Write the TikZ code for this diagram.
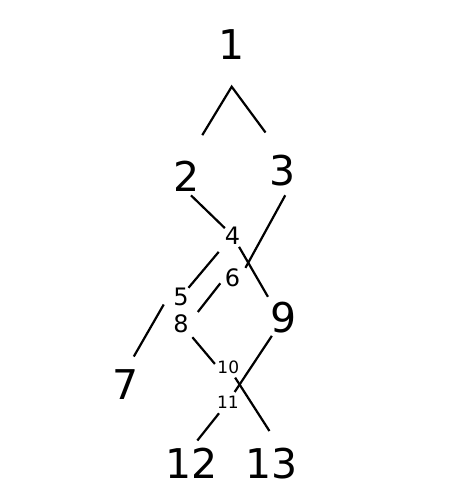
\documentclass[tikz,border=0pt]{standalone}
\usepackage{fontspec}
\setmainfont{DejaVu Sans}
\usepackage{tikz}
\usetikzlibrary{positioning}
\tikzset{
    bignum/.style={inner sep=0pt, outer sep=0pt, font=\fontsize{41}{41}\selectfont},
    midnum/.style={inner sep=0pt, outer sep=0pt, font=\fontsize{24}{24}\selectfont},
    smallnum/.style={inner sep=0pt, outer sep=0pt, font=\fontsize{17}{17}\selectfont},
    link/.style={line width=2.2pt}
}
\begin{document}
\begin{tikzpicture}[x=1pt, y=-1pt]
    \useasboundingbox (0,0) rectangle (470,504);
    % Top
    \node[bignum] (n1) at (232,45) {1};
    \coordinate (split) at (231.7,86.7);
    \node[bignum] (n2) at (186.7,176) {2};
    \node[bignum] (n3) at (282.5,171) {3};

    % Middle
    \node[midnum] (n4) at (232.5,235.5) {4};
    \node[midnum] (n5) at (181,296.7) {5};
    \node[midnum] (n6) at (232.5,277.5) {6};
    \node[midnum] (n8) at (181,323.7) {8};
    \node[bignum] (n9) at (284,317.5) {9};
    \node[bignum] (n7) at (126,385) {7};

    % Bottom
    \node[smallnum] (n10) at (228.3,367) {10};
    \node[smallnum] (n11) at (228,402) {11};
    \node[bignum] (n12) at (191.3,463.3) {12};
    \node[bignum] (n13) at (271.3,463.3) {13};

    % Connections
    \draw[link, shorten <=30pt, shorten >=28.6pt] (n2.north) -- (split) -- (n3.north);
    \draw[link, shorten <=6pt] (n2.south) -- (n4);
    \draw[link, shorten <=3pt, shorten >=6pt] (n4) -- (n9.north west);
    \draw[link, shorten <=10pt, shorten >=11pt] (n3.-64) -- (n6.east);
    \draw[link, shorten <=10pt] (n4) -- (n5);
    \draw[link, shorten <=7.4pt, shorten >=14.9pt] (n6.west) -- (n8.east);
    \draw[link, shorten <=19.3pt, shorten >=15.6pt] (n5.north west) -- (n7.north);
    \draw[link, shorten <=5.8pt, shorten >=4pt] (n8.south east) -- (n10.west);
    \draw[link, shorten <=3.4pt, shorten >=4.6pt] (n9) -- (n11);
    \draw[link, shorten <=5pt, shorten >=20pt] (n10) -- (n13.60);
    \draw[link, shorten <=6.5pt, shorten >=9.7pt] (n11) -- (n12.north);
\end{tikzpicture}
\end{document}
